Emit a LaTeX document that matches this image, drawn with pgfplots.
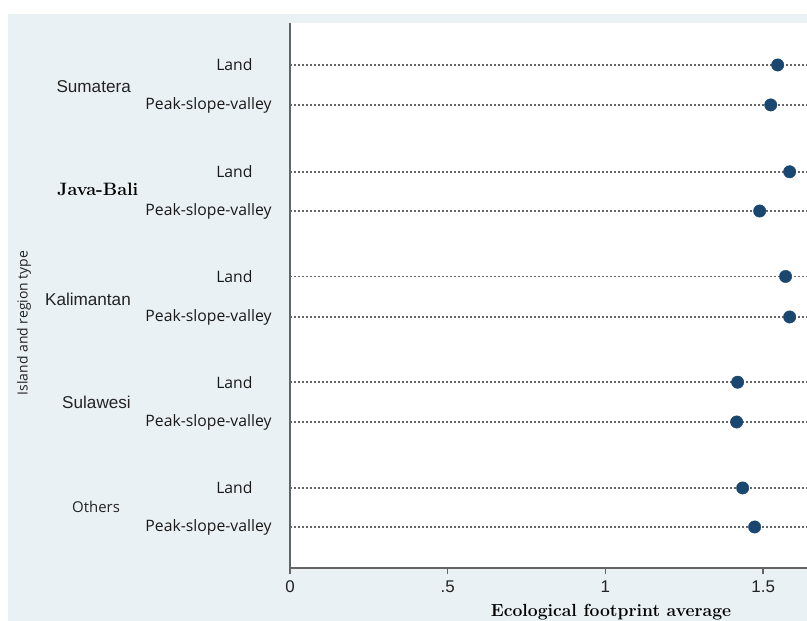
\documentclass[border=0pt]{standalone}
\usepackage{fontspec}
\newfontfamily\arial{Liberation Sans}
\newfontfamily\osans{Open Sans}
\usepackage{pgfplots}
\pgfplotsset{compat=1.18}

\definecolor{bgblue}{RGB}{234,241,245}
\definecolor{stnavy}{RGB}{26,71,111}
\definecolor{axgray}{RGB}{100,100,100}
\definecolor{txtgray}{RGB}{35,35,35}

% average ecological footprint, one row per island / region type
\pgfplotstableread{
x     y
1.546 1.000
1.524 1.378
1.584 2.010
1.489 2.381
1.571 3.000
1.584 3.383
1.419 4.000
1.416 4.376
1.435 5.000
1.473 5.369
}\fpdata

\begin{document}
\begin{tikzpicture}[x=1bp,y=1bp]
\useasboundingbox (0,0) rectangle (807,621);
\fill[white] (0,0) rectangle (807,621);
\fill[bgblue] (8,0) rectangle (807,607);
\clip (0,0) rectangle (807,621);

\begin{axis}[
  at={(290bp,53bp)}, anchor=south west,
  scale only axis, width=517bp, height=545bp,
  axis background/.style={fill=white},
  axis x line*=bottom, axis y line*=left,
  axis line style={axgray, line width=1.7bp, -},
  xmin=0, xmax=1.639,
  ymin=0.603, ymax=5.757, y dir=reverse,
  xtick={0,0.5,1,1.5}, xticklabels={0,.5,1,1.5},
  ytick={1,1.378,2.010,2.381,3,3.383,4,4.376,5,5.369},
  yticklabels={Land\hspace*{19bp},Peak-slope-valley,Land\hspace*{19bp},Peak-slope-valley,
    Land\hspace*{19bp},Peak-slope-valley,Land\hspace*{19bp},Peak-slope-valley,
    Land\hspace*{19bp},Peak-slope-valley},
  ymajorgrids,
  grid style={black!60, dash pattern=on 1.6bp off 2.4bp, line width=1.7bp},
  tick align=outside, major tick length=6bp,
  xtick style={axgray, line width=1.4bp},
  ytick style={draw=none},
  xticklabel style={font=\arial\fontsize{17}{17}\selectfont, text=txtgray, yshift=-3bp},
  yticklabel style={font=\osans\fontsize{15.8}{16}\selectfont, text=black!90, anchor=east, xshift=-9bp},
]
\addplot[only marks, mark=*, mark size=6.2bp, stnavy] table {\fpdata};
\end{axis}

% island names
\begin{scope}[every node/.style={inner sep=0pt, text=txtgray}]
\node[anchor=east, font=\arial\fontsize{17.2}{17}\selectfont] at (131,534) {Sumatera};
\node[anchor=west, font=\rmfamily\bfseries\fontsize{18}{18}\selectfont, text=black] at (57,432) {Java-Bali};
\node[anchor=east, font=\arial\fontsize{17.2}{17}\selectfont] at (131,322) {Kalimantan};
\node[anchor=east, font=\arial\fontsize{17.2}{17}\selectfont] at (131,219) {Sulawesi};
\node[anchor=west, font=\osans\fontsize{15}{15}\selectfont] at (72,114) {Others};
\node[rotate=90, font=\osans\fontsize{14}{14}\selectfont] at (24,298) {Island and region type};
\node[anchor=base, font=\rmfamily\bfseries\fontsize{17.6}{18}\selectfont, text=black] at (611,4.2) {Ecological footprint average};
\end{scope}
\end{tikzpicture}
\end{document}
